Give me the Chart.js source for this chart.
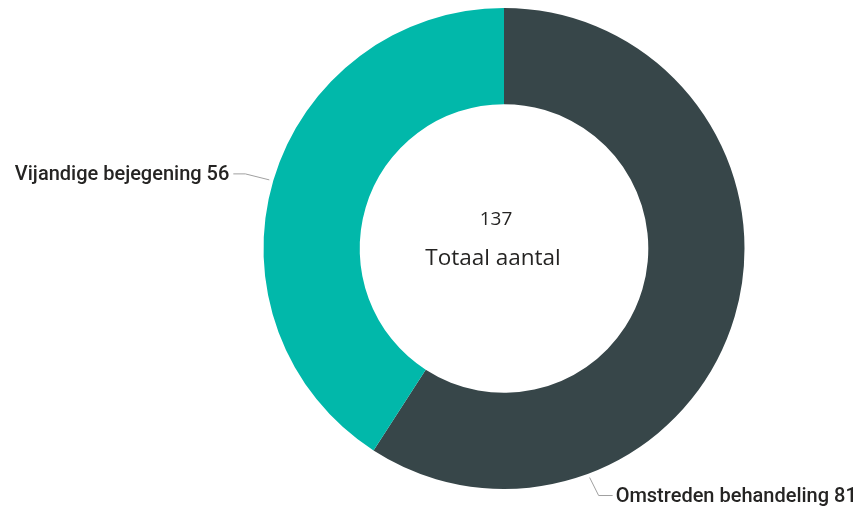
<!DOCTYPE html>
<html>
<head>
<meta charset="utf-8">
<script src="https://cdn.jsdelivr.net/npm/chart.js@4"></script>
<style>
  html, body { margin: 0; padding: 0; background: #ffffff; }
  #wrap { width: 860px; height: 514px; position: relative; }
</style>
</head>
<body>
<div id="wrap"><canvas id="c" width="860" height="514"></canvas></div>
<script>
const categories = ["Omstreden behandeling", "Vijandige bejegening"];
const values = [81, 56];
const colors = ["#374649", "#01B8AA"];
const centerLabel = "Totaal aantal";

const total = values.reduce((a, b) => a + b, 0);

// label layout: anchor angle (degrees clockwise from top), elbow direction
const labelLayout = [
  { angle: 159.5, side: "right" },
  { angle: 286.3, side: "left" }
];

const labelPlugin = {
  id: "leaderLabels",
  afterDatasetsDraw(chart) {
    const ctx = chart.ctx;
    const meta = chart.getDatasetMeta(0);
    const arc = meta.data[0];
    const cx = arc.x, cy = arc.y, R = arc.outerRadius;
    ctx.save();
    // center text
    ctx.fillStyle = "#252423";
    ctx.textAlign = "center";
    ctx.textBaseline = "alphabetic";
    ctx.font = "19px 'Open Sans', sans-serif";
    ctx.fillText(String(total), cx - 8, cy - 24);
    ctx.font = "22.5px 'Open Sans', sans-serif";
    ctx.fillText(centerLabel, cx - 11, cy + 16);

    ctx.font = "500 20px Roboto, sans-serif";
    ctx.strokeStyle = "#a0a0a0";
    ctx.lineWidth = 1;
    labelLayout.forEach((L, i) => {
      const a = L.angle * Math.PI / 180;
      const sx = cx + (R + 4) * Math.sin(a);
      const sy = cy - (R + 4) * Math.cos(a);
      const text = categories[i] + " " + values[i];
      ctx.beginPath();
      ctx.moveTo(sx, sy);
      let tx, ty;
      if (L.side === "right") {
        const ex = sx + 9, ey = sy + 18;
        ctx.lineTo(ex, ey);
        ctx.lineTo(ex + 14, ey);
        tx = ex + 17; ty = ey;
        ctx.stroke();
        ctx.textAlign = "left";
      } else {
        const ex = sx - 24, ey = sy - 6;
        ctx.lineTo(ex, ey);
        ctx.lineTo(ex - 12, ey);
        tx = ex - 16; ty = ey;
        ctx.stroke();
        ctx.textAlign = "right";
      }
      ctx.fillStyle = "#252423";
      ctx.textBaseline = "middle";
      ctx.fillText(text, tx, ty + 1);
    });
    ctx.restore();
  }
};

new Chart(document.getElementById("c"), {
  type: "doughnut",
  data: {
    labels: categories,
    datasets: [{
      data: values,
      backgroundColor: colors,
      borderWidth: 0
    }]
  },
  options: {
    responsive: false,
    animation: false,
    cutout: "60%",
    layout: { padding: { top: 8, bottom: 25, left: 148, right: 0 } },
    plugins: {
      legend: { display: false },
      tooltip: { enabled: false }
    }
  },
  plugins: [labelPlugin]
});
</script>
</body>
</html>
